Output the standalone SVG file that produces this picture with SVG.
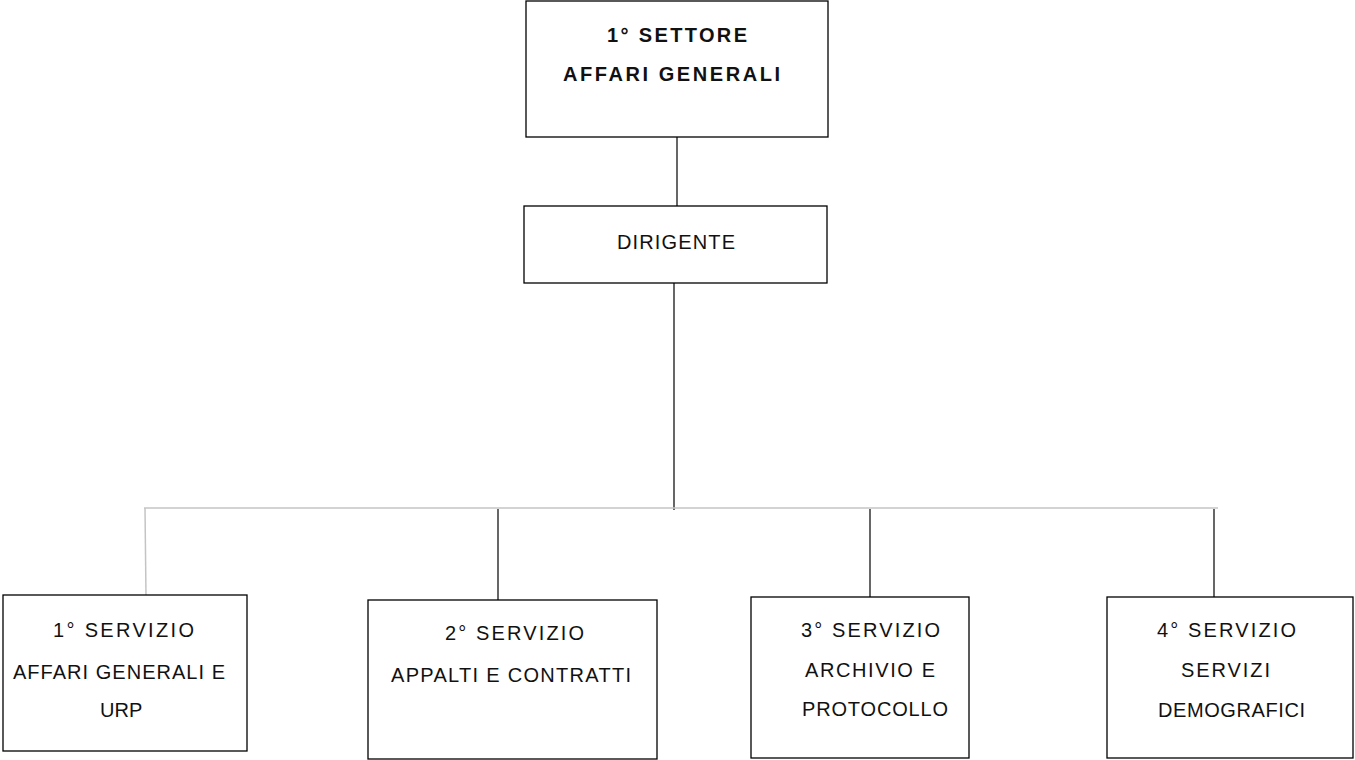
<svg xmlns="http://www.w3.org/2000/svg" width="1355" height="760" viewBox="0 0 1355 760">
  <style>
    .box { fill: #ffffff; stroke: #000000; stroke-width: 1.3; }
    .t { font-family: "Liberation Sans", Arial, sans-serif; font-size: 20px; fill: #111111; }
    .b { font-weight: bold; }
    .c { stroke: #000000; stroke-width: 1.2; fill: none; }
    .g { stroke: #c4c4c4; stroke-width: 1.5; fill: none; }
  </style>
  <rect width="1355" height="760" fill="#ffffff"/>
  <g id="connectors">
    <line class="c" x1="677" y1="137" x2="677" y2="206"/>
    <line class="c" x1="674" y1="283" x2="674" y2="510"/>
    <line class="g" x1="144" y1="508" x2="1218" y2="508"/>
    <line class="g" x1="145" y1="508" x2="146" y2="596"/>
    <line class="c" x1="498" y1="509" x2="498" y2="600"/>
    <line class="c" x1="870" y1="509" x2="870" y2="597"/>
    <line class="c" x1="1214" y1="509" x2="1214" y2="597"/>
  </g>
  <g id="settore">
    <rect class="box" x="526" y="1" width="302" height="136"/>
    <text class="t b" x="607" y="42" textLength="140" lengthAdjust="spacing">1° SETTORE</text>
    <text class="t b" x="563" y="81" textLength="217" lengthAdjust="spacing">AFFARI GENERALI</text>
  </g>
  <g id="dirigente">
    <rect class="box" x="524" y="206" width="303" height="77"/>
    <text class="t" x="617" y="249" textLength="118" lengthAdjust="spacing">DIRIGENTE</text>
  </g>
  <g id="servizio1">
    <rect class="box" x="3" y="595" width="244" height="156"/>
    <text class="t" x="53" y="637" textLength="141" lengthAdjust="spacing">1° SERVIZIO</text>
    <text class="t" x="13" y="679" textLength="212" lengthAdjust="spacing">AFFARI GENERALI E</text>
    <text class="t" x="100" y="717">URP</text>
  </g>
  <g id="servizio2">
    <rect class="box" x="368" y="600" width="289" height="159"/>
    <text class="t" x="445" y="640" textLength="139" lengthAdjust="spacing">2° SERVIZIO</text>
    <text class="t" x="391" y="682" textLength="240" lengthAdjust="spacing">APPALTI E CONTRATTI</text>
  </g>
  <g id="servizio3">
    <rect class="box" x="751" y="597" width="218" height="161"/>
    <text class="t" x="801" y="637" textLength="139" lengthAdjust="spacing">3° SERVIZIO</text>
    <text class="t" x="805" y="677" textLength="130" lengthAdjust="spacing">ARCHIVIO E</text>
    <text class="t" x="802" y="716" textLength="146" lengthAdjust="spacing">PROTOCOLLO</text>
  </g>
  <g id="servizio4">
    <rect class="box" x="1107" y="597" width="246" height="161"/>
    <text class="t" x="1157" y="637" textLength="139" lengthAdjust="spacing">4° SERVIZIO</text>
    <text class="t" x="1181" y="677" textLength="89" lengthAdjust="spacing">SERVIZI</text>
    <text class="t" x="1158" y="717" textLength="147" lengthAdjust="spacing">DEMOGRAFICI</text>
  </g>
</svg>
